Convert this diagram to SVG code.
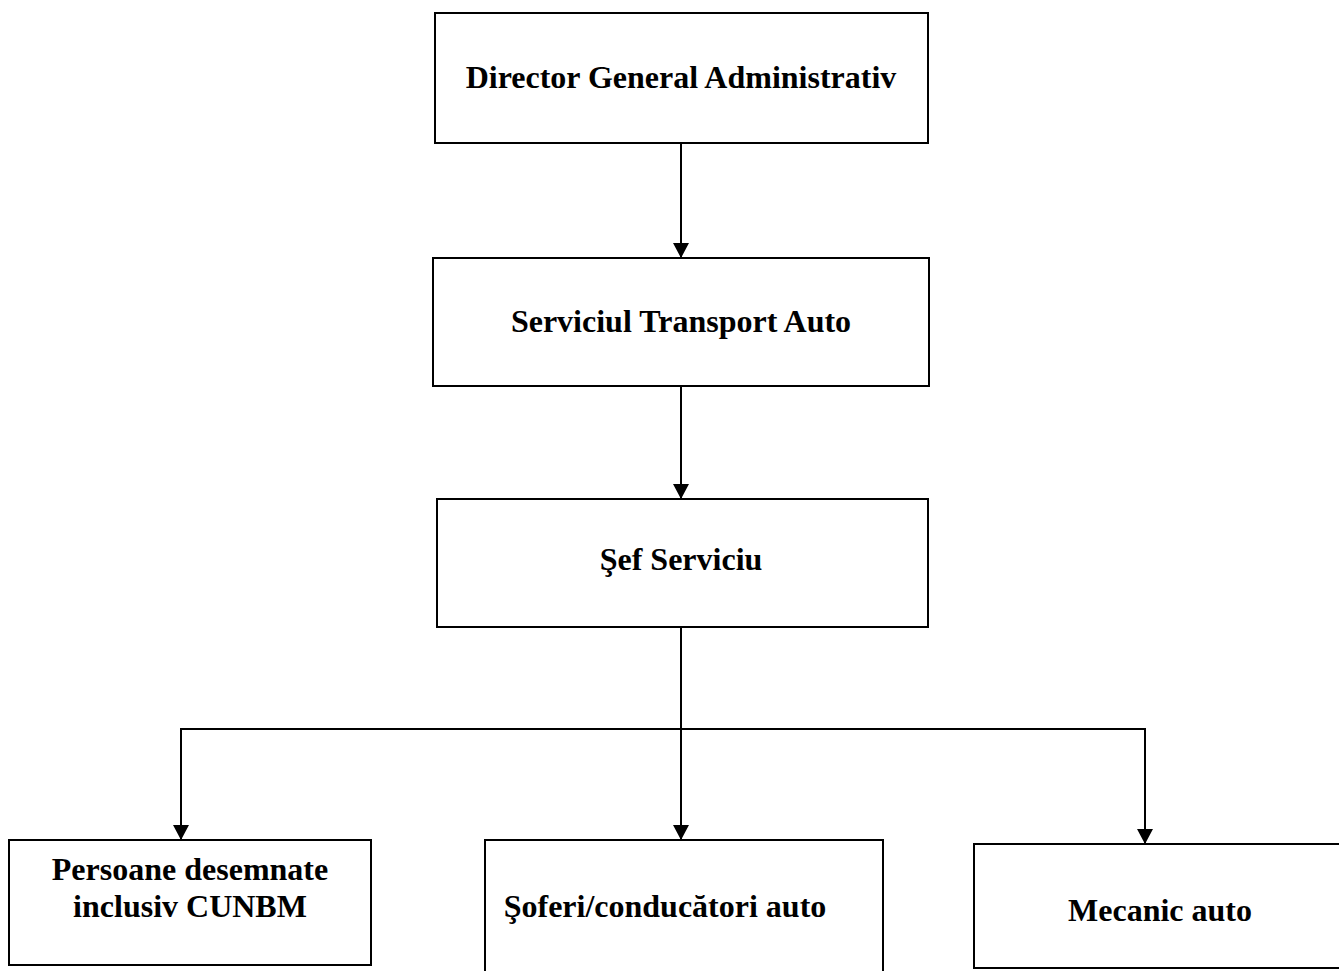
<svg xmlns="http://www.w3.org/2000/svg" width="1339" height="971" viewBox="0 0 1339 971">
<style>
.box{fill:#fff;stroke:#000;stroke-width:2}
.t{font-family:"Liberation Serif","Times New Roman",serif;font-weight:bold;font-size:32px;text-anchor:middle;fill:#000}
.c{fill:none;stroke:#000;stroke-width:2}
</style>
<defs>
<marker id="ah" viewBox="0 0 15 16" refX="15" refY="8" markerWidth="15" markerHeight="16" markerUnits="userSpaceOnUse" orient="auto">
<path d="M0,0 L15,8 L0,16 Z" fill="#000"/>
</marker>
</defs>
<rect width="1339" height="971" fill="#fff"/>
<g id="connectors">
<line class="c" x1="681" y1="143" x2="681" y2="258" marker-end="url(#ah)"/>
<line class="c" x1="681" y1="386" x2="681" y2="499" marker-end="url(#ah)"/>
<line class="c" x1="681" y1="627" x2="681" y2="840" marker-end="url(#ah)"/>
<line class="c" x1="180" y1="729" x2="1146" y2="729"/>
<line class="c" x1="181" y1="728" x2="181" y2="840" marker-end="url(#ah)"/>
<line class="c" x1="1145" y1="728" x2="1145" y2="844" marker-end="url(#ah)"/>
</g>
<g id="n1">
<rect class="box" x="435" y="13" width="493" height="130"/>
<text class="t" x="681" y="88">Director General Administrativ</text>
</g>
<g id="n2">
<rect class="box" x="433" y="258" width="496" height="128"/>
<text class="t" x="681" y="332">Serviciul Transport Auto</text>
</g>
<g id="n3">
<rect class="box" x="437" y="499" width="491" height="128"/>
<text class="t" x="681" y="570">Şef Serviciu</text>
</g>
<g id="n4">
<rect class="box" x="9" y="840" width="362" height="125"/>
<text class="t" x="190" y="880">Persoane desemnate</text>
<text class="t" x="190" y="917">inclusiv CUNBM</text>
</g>
<g id="n5">
<path class="c" d="M485,975 V840 H883 V975"/>
<text class="t" x="665" y="917">Şoferi/conducători auto</text>
</g>
<g id="n6">
<rect class="box" x="974" y="844" width="370" height="124"/>
<text class="t" x="1160" y="921">Mecanic auto</text>
</g>
</svg>
